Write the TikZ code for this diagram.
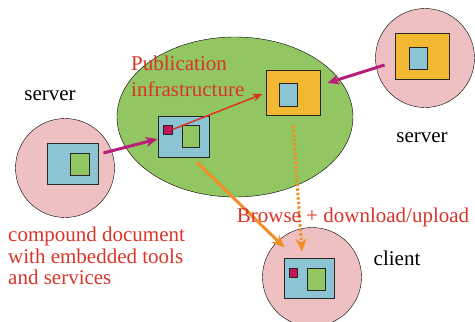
\documentclass[tikz,border=0pt]{standalone}
\usepackage{fontspec}
\setmainfont{Liberation Serif}
\usepackage{tikz}
\usetikzlibrary{arrows.meta,shapes.geometric}

\definecolor{hostpink}{RGB}{238,192,194}
\definecolor{infgreen}{RGB}{146,198,98}
\definecolor{docblue}{RGB}{140,196,212}
\definecolor{docorange}{RGB}{242,184,50}
\definecolor{tagred}{RGB}{196,20,90}
\definecolor{txtred}{RGB}{218,52,40}
\definecolor{linkpink}{RGB}{185,30,120}
\definecolor{floworange}{RGB}{240,142,40}

\begin{document}
\begin{tikzpicture}[x=1pt,y=-1pt,
  every node/.style={font=\rmfamily\fontsize{21}{21.5}\selectfont},
  host/.style={circle,draw,thin,fill=hostpink,minimum size=99pt,inner sep=0pt},
  box/.style={draw=black!85,line width=0.9pt,inner sep=0pt},
  link/.style={-{Stealth[length=12pt,width=10pt]},line width=3pt,linkpink},
  flow/.style={-{Stealth[length=13pt,width=11pt]},line width=3pt,floworange},
  lbl/.style={inner sep=0pt,text=txtred,align=left}]
  \useasboundingbox (0,0) rectangle (475,322);

  % publication infrastructure
  \node[ellipse,draw,thin,fill=infgreen,minimum width=236pt,minimum height=160pt] (infra) at (235,117) {};

  % hosts
  \node[host] (lsrv) at (65,168) {};
  \node[host] (rsrv) at (425,58) {};
  \node[host] (cli) at (312,277) {};

  % documents
  \node[box,fill=docblue,minimum width=51pt,minimum height=41pt] (ldoc) at (72.5,163.5) {};
  \node[box,fill=infgreen,minimum width=19pt,minimum height=22pt] (lpart) at (79.5,164) {};

  \node[box,fill=docorange,minimum width=54pt,minimum height=46pt] (rdoc) at (422,56) {};
  \node[box,fill=docblue,minimum width=18pt,minimum height=22pt] (rpart) at (418,58) {};

  \node[box,fill=docblue,minimum width=51pt,minimum height=41pt] (mdoc) at (183.5,136.5) {};
  \node[box,fill=tagred,minimum width=9pt,minimum height=9pt] (mtag) at (167.5,129.5) {};
  \node[box,fill=infgreen,minimum width=17pt,minimum height=22pt] (mpart) at (190.5,136) {};

  \node[box,fill=docorange,minimum width=54pt,minimum height=45pt] (odoc) at (293,92.5) {};
  \node[box,fill=docblue,minimum width=18pt,minimum height=23pt] (opart) at (288,94.5) {};

  \node[box,fill=docblue,minimum width=50pt,minimum height=40pt] (cdoc) at (309,278) {};
  \node[box,fill=tagred,minimum width=8pt,minimum height=9pt] (ctag) at (293,272.5) {};
  \node[box,fill=infgreen,minimum width=18pt,minimum height=22pt] (cpart) at (316,279) {};

  % connectors
  \draw[link] ([xshift=5pt,yshift=10.5pt]ldoc.east) -- ([yshift=-2.5pt]mdoc.west);
  \draw[link] ([xshift=-10pt,yshift=-9pt]rdoc.west) -- ([xshift=7pt,yshift=9.5pt]odoc.east);
  \draw[-{Stealth[length=10pt,width=8pt]},line width=1.5pt,txtred]
    (mtag.east) -- ([xshift=-3pt,yshift=-1.5pt]odoc.west);
  \draw[flow] ([xshift=13.5pt,yshift=-5pt]mdoc.south) -- ([xshift=1pt,yshift=10pt]cdoc.north west);
  \draw[flow,dash pattern=on 2.5pt off 2pt]
    ([yshift=-10pt]odoc.south) -- ([xshift=-7pt,yshift=6pt]cdoc.north);

  % labels
  \node (lsrvlbl) at (50,96) {server};
  \node (rsrvlbl) at (422,138) {server};
  \node (clilbl) at (397,258) {client};
  \node[lbl,anchor=west,font=\rmfamily\fontsize{21}{26}\selectfont] (infralbl) at (131,76)
    {Publication\\infrastructure};
  \node[lbl] (flowlbl) at (353,217) {Browse + download/upload};
  \node[lbl,anchor=west] (doclbl) at (8,256)
    {compound document\\with embedded tools\\and services};
\end{tikzpicture}
\end{document}
